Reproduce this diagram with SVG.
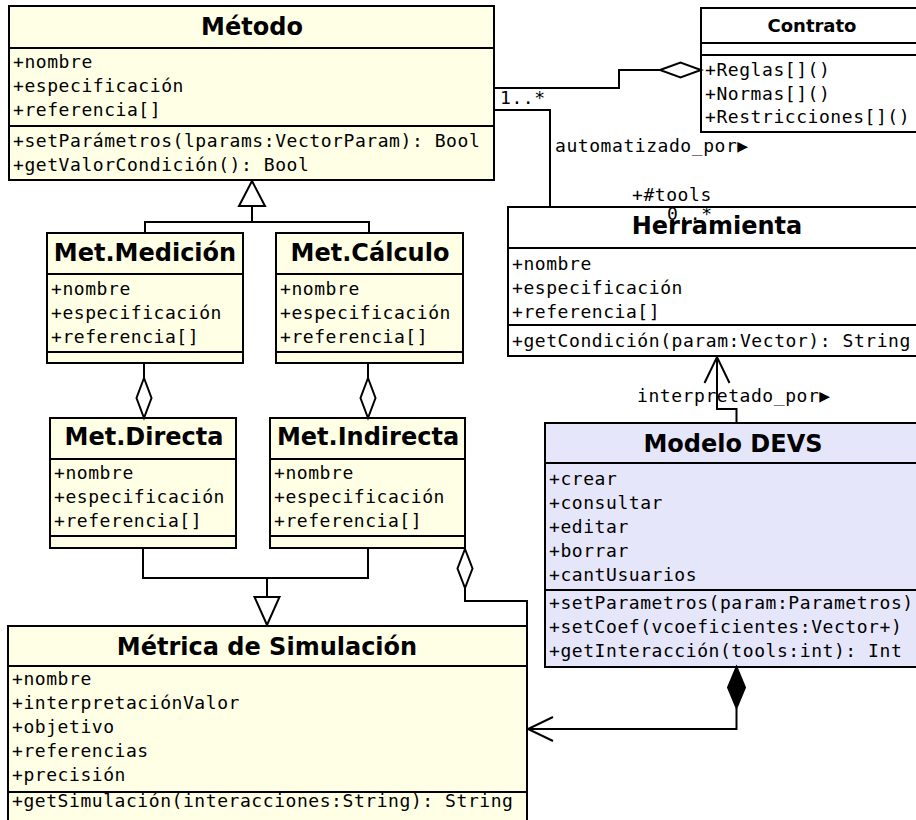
<svg xmlns="http://www.w3.org/2000/svg" width="916" height="820" viewBox="0 0 916 820">
<style>
.box{stroke:#000;stroke-width:2}
.y{fill:#FFFFE6}
.w{fill:#FFFFFF}
.l{fill:#E6E6FA}
.sep{stroke:#000;stroke-width:2}
.t{font-family:"DejaVu Sans","Liberation Sans",sans-serif;font-weight:bold;font-size:24px;text-anchor:middle;fill:#000}
.a{font-family:"DejaVu Sans Mono","Liberation Mono",monospace;font-size:18px;letter-spacing:0.56px;fill:#000}
.c{fill:none;stroke:#000;stroke-width:2}
.ho{fill:#fff;stroke:#000;stroke-width:2}
.fi{fill:#000;stroke:#000;stroke-width:2}
</style>
<rect width="916" height="820" fill="#fff"/>

<g id="metodo">
<rect class="box y" x="9" y="6" width="485" height="174"/>
<line class="sep" x1="9" y1="48" x2="494" y2="48"/>
<line class="sep" x1="9" y1="126" x2="494" y2="126"/>
<text class="t" x="252" y="35">Método</text>
<text class="a" x="13" y="68">+nombre</text>
<text class="a" x="13" y="92">+especificación</text>
<text class="a" x="13" y="116">+referencia[]</text>
<text class="a" x="13" y="147">+setParámetros(lparams:VectorParam): Bool</text>
<text class="a" x="13" y="171">+getValorCondición(): Bool</text>
</g>

<g id="contrato">
<rect class="box w" x="701" y="8" width="225" height="124"/>
<line class="sep" x1="701" y1="43" x2="926" y2="43"/>
<line class="sep" x1="701" y1="55" x2="926" y2="55"/>
<text class="t" x="812" y="32" style="font-size:18px">Contrato</text>
<text class="a" x="705" y="76">+Reglas[]()</text>
<text class="a" x="705" y="100">+Normas[]()</text>
<text class="a" x="705" y="123">+Restricciones[]()</text>
</g>

<g id="herramienta">
<rect class="box w" x="508" y="207" width="418" height="149"/>
<line class="sep" x1="508" y1="248" x2="926" y2="248"/>
<line class="sep" x1="508" y1="325" x2="926" y2="325"/>
<text class="a" x="667" y="220">0..*</text>
<text class="t" x="717" y="234">Herramienta</text>
<text class="a" x="512" y="270">+nombre</text>
<text class="a" x="512" y="294">+especificación</text>
<text class="a" x="512" y="318">+referencia[]</text>
<text class="a" x="512" y="347">+getCondición(param:Vector): String</text>
</g>

<g id="met-medicion">
<rect class="box y" x="47" y="233" width="196" height="130"/>
<line class="sep" x1="47" y1="274" x2="243" y2="274"/>
<line class="sep" x1="47" y1="352" x2="243" y2="352"/>
<text class="t" x="145" y="261">Met.Medición</text>
<text class="a" x="51" y="295">+nombre</text>
<text class="a" x="51" y="319">+especificación</text>
<text class="a" x="51" y="343">+referencia[]</text>
</g>

<g id="met-calculo">
<rect class="box y" x="276" y="233" width="187" height="130"/>
<line class="sep" x1="276" y1="274" x2="463" y2="274"/>
<line class="sep" x1="276" y1="352" x2="463" y2="352"/>
<text class="t" x="370" y="261">Met.Cálculo</text>
<text class="a" x="280" y="295">+nombre</text>
<text class="a" x="280" y="319">+especificación</text>
<text class="a" x="280" y="343">+referencia[]</text>
</g>

<g id="met-directa">
<rect class="box y" x="50" y="418" width="186" height="130"/>
<line class="sep" x1="50" y1="459" x2="236" y2="459"/>
<line class="sep" x1="50" y1="536" x2="236" y2="536"/>
<text class="t" x="144" y="445">Met.Directa</text>
<text class="a" x="54" y="479">+nombre</text>
<text class="a" x="54" y="503">+especificación</text>
<text class="a" x="54" y="527">+referencia[]</text>
</g>

<g id="met-indirecta">
<rect class="box y" x="270" y="418" width="195" height="130"/>
<line class="sep" x1="270" y1="459" x2="465" y2="459"/>
<line class="sep" x1="270" y1="536" x2="465" y2="536"/>
<text class="t" x="368" y="445">Met.Indirecta</text>
<text class="a" x="274" y="479">+nombre</text>
<text class="a" x="274" y="503">+especificación</text>
<text class="a" x="274" y="527">+referencia[]</text>
</g>

<g id="modelo-devs">
<rect class="box l" x="545" y="423" width="381" height="244"/>
<line class="sep" x1="545" y1="463" x2="926" y2="463"/>
<line class="sep" x1="545" y1="590" x2="926" y2="590"/>
<text class="t" x="733" y="452">Modelo DEVS</text>
<text class="a" x="549" y="485">+crear</text>
<text class="a" x="549" y="509">+consultar</text>
<text class="a" x="549" y="533">+editar</text>
<text class="a" x="549" y="557">+borrar</text>
<text class="a" x="549" y="581">+cantUsuarios</text>
<text class="a" x="549" y="609">+setParametros(param:Parametros)</text>
<text class="a" x="549" y="633">+setCoef(vcoeficientes:Vector+)</text>
<text class="a" x="549" y="657">+getInteracción(tools:int): Int</text>
</g>

<g id="metrica">
<rect class="box y" x="8" y="626" width="519" height="204"/>
<line class="sep" x1="8" y1="666" x2="527" y2="666"/>
<line class="sep" x1="8" y1="792" x2="527" y2="792"/>
<text class="t" x="267" y="655">Métrica de Simulación</text>
<text class="a" x="12" y="685">+nombre</text>
<text class="a" x="12" y="709">+interpretaciónValor</text>
<text class="a" x="12" y="733">+objetivo</text>
<text class="a" x="12" y="757">+referencias</text>
<text class="a" x="12" y="781">+precisión</text>
<text class="a" x="12" y="807">+getSimulación(interacciones:String): String</text>
</g>

<g id="connectors">
<!-- Metodo - Contrato aggregation -->
<polyline class="c" points="494,88 619,88 619,70 660,70"/>
<polygon class="ho" points="660,70 680.5,62.5 701,70 680.5,77.5"/>
<!-- Metodo - Herramienta association -->
<polyline class="c" points="494,110 550,110 550,207"/>
<text class="a" x="500" y="104">1..*</text>
<text class="a" x="555" y="152">automatizado_por▶</text>
<text class="a" x="632" y="201">+#tools</text>
<!-- generalization to Metodo -->
<polyline class="c" points="145,233 145,222 369,222 369,233"/>
<line class="c" x1="252" y1="206" x2="252" y2="222"/>
<polygon class="ho" points="252,181 239,206 265,206"/>
<!-- aggregations Medicion-Directa, Calculo-Indirecta -->
<line class="c" x1="144" y1="363" x2="144" y2="378"/>
<polygon class="ho" points="144,378 151.5,398 144,418 136.5,398"/>
<line class="c" x1="368" y1="363" x2="368" y2="378"/>
<polygon class="ho" points="368,378 375.5,398 368,418 360.5,398"/>
<!-- generalization to Metrica -->
<polyline class="c" points="143,548 143,578 368,578 368,548"/>
<line class="c" x1="267" y1="578" x2="267" y2="597"/>
<polygon class="ho" points="254.5,597 279.5,597 267,625"/>
<!-- Indirecta - Metrica aggregation -->
<polygon class="ho" points="465,549 472.5,568.5 465,588 457.5,568.5"/>
<polyline class="c" points="465,588 465,601 527,601 527,626"/>
<!-- Modelo DEVS - Herramienta -->
<polyline class="c" points="736.5,423 736.5,409 717,409 717,357"/>
<polyline class="c" points="704.5,383 717,357 729.5,383"/>
<text class="a" x="637" y="402">interpretado_por▶</text>
<!-- Modelo DEVS - Metrica composition -->
<polygon class="fi" points="736.5,667 745,687.5 736.5,708 728,687.5"/>
<polyline class="c" points="736.5,708 736.5,729 528,729"/>
<polyline class="c" points="553,717 528,729 553,741"/>
</g>
</svg>
